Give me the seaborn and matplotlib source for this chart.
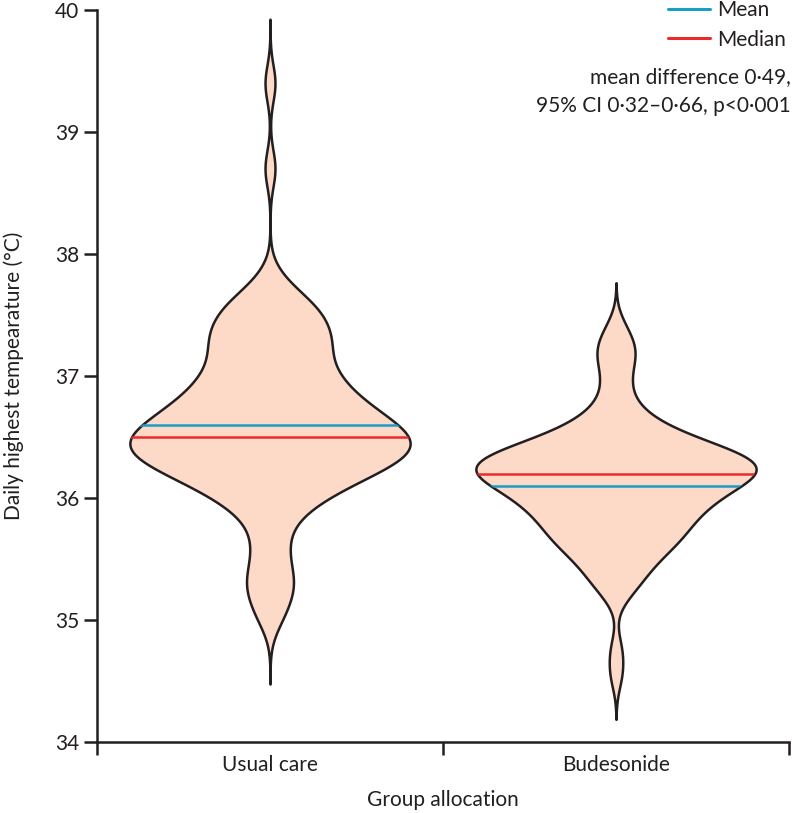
import numpy as np
import pandas as pd
import matplotlib
matplotlib.use("Agg")
import matplotlib.pyplot as plt
from matplotlib.lines import Line2D
import seaborn as sns

# ---------------- data ----------------
groups = ["Usual care", "Budesonide"]

# daily highest temperature (°C) and number of patients at each value
usual_temps = [35.0, 35.1, 35.2, 35.3, 35.4, 35.5, 35.6, 35.7, 35.8, 35.9,
               36.0, 36.1, 36.2, 36.3, 36.4, 36.5, 36.6, 36.7, 36.8, 36.9,
               37.0, 37.1, 37.2, 37.3, 37.4, 37.5, 37.6, 37.7, 37.8, 38.7, 39.4]
usual_counts = [1, 1, 1, 2, 1, 1, 1, 1, 1, 2,
                3, 4, 6, 7, 9, 8, 7, 6, 5, 4,
                4, 3, 3, 4, 3, 3, 3, 1, 1, 1, 1]

bud_temps = [34.55, 34.75, 35.2, 35.3, 35.4, 35.5, 35.6, 35.7, 35.8, 35.9,
             36.0, 36.1, 36.2, 36.3, 36.4, 36.5, 36.6, 36.7, 36.8, 36.9,
             37.0, 37.1, 37.2, 37.3, 37.4]
bud_counts = [1, 1, 1, 2, 2, 3, 4, 5, 5, 6,
              7, 8, 11, 11, 8, 5, 3, 2, 1, 1,
              1, 1, 2, 1, 1]

means = [36.6, 36.1]
medians = [36.5, 36.2]

legend_labels = ["Mean", "Median"]
annotation = ["mean difference 0·49,", "95% CI 0·32–0·66, p<0·001"]
y_ticks = [34, 35, 36, 37, 38, 39, 40]

# ---------------- styling ----------------
FILL = "#fdd9c8"
EDGE = "#231f20"
BLUE = "#1b9bc6"
RED = "#ea2a2d"
FS = 15

sns.set_style("ticks")
plt.rcParams["font.family"] = ["Lato", "DejaVu Sans"]
plt.rcParams["text.color"] = EDGE
plt.rcParams["axes.labelcolor"] = EDGE
plt.rcParams["xtick.color"] = EDGE
plt.rcParams["ytick.color"] = EDGE

df = pd.DataFrame({
    "group": np.repeat(["Usual care"] * len(usual_temps) + ["Budesonide"] * len(bud_temps),
                       usual_counts + bud_counts),
    "temp": np.repeat(usual_temps + bud_temps, usual_counts + bud_counts),
})

fig = plt.figure(figsize=(7.92, 8.13), dpi=100)
ax = fig.add_axes([97 / 792, 71 / 813, 692 / 792, 732 / 813])

bandwidth = {"Usual care": 0.15, "Budesonide": 0.13}
cuts = {"Usual care": 3.5, "Budesonide": 2.8}

violins = {}
for g in groups:
    sub = df[df["group"] == g]
    factor = bandwidth[g] / sub["temp"].std(ddof=1)
    n_before = len(ax.collections)
    sns.violinplot(data=sub, x="group", y="temp", order=groups, inner=None,
                   bw_method=factor, cut=cuts[g], gridsize=400, width=0.81,
                   density_norm="width", color=FILL, linecolor=EDGE,
                   linewidth=1.8, saturation=1, ax=ax)
    violins[g] = ax.collections[n_before]

for i, g in enumerate(groups):
    poly = violins[g]
    path = poly.get_paths()[0]
    for val, col in [(means[i], BLUE), (medians[i], RED)]:
        ln, = ax.plot([i - 0.5, i + 0.5], [val, val], color=col, lw=1.8,
                      solid_capstyle="butt", zorder=3)
        ln.set_clip_path(path, poly.get_transform())

ax.set_xlim(-0.5, 1.5)
ax.set_ylim(34, 40)
ax.set_yticks(y_ticks)
ax.set_yticklabels([str(t) for t in y_ticks], fontsize=FS)
ax.set_xticks([-0.5, 0.5, 1.5])
ax.set_xticklabels(["", "", ""])
ax.set_xticks([0, 1], minor=True)
ax.set_xticklabels(groups, minor=True, fontsize=FS)
ax.tick_params(axis="both", which="major", length=9.5, width=1.8, pad=3.5)
ax.tick_params(axis="x", which="minor", length=0, pad=9)

for side in ["top", "right"]:
    ax.spines[side].set_visible(False)
for side in ["left", "bottom"]:
    ax.spines[side].set_linewidth(1.8)
    ax.spines[side].set_color(EDGE)

ax.set_xlabel("Group allocation", fontsize=FS)
ax.xaxis.set_label_coords(0.5, -0.066)
ax.set_ylabel("Daily highest tempearature (°C)", fontsize=FS)
ax.yaxis.set_label_coords(-0.105, 0.5)

handles = [Line2D([], [], color=BLUE, lw=2.2), Line2D([], [], color=RED, lw=2.2)]
ax.legend(handles, legend_labels, loc="upper right",
          bbox_to_anchor=(786 / 792, 0.9995), bbox_transform=fig.transFigure,
          frameon=False, handlelength=2.0, handletextpad=0.35,
          labelspacing=0.45, borderpad=0, borderaxespad=0, fontsize=FS)

fig.text(791 / 792, 1 - 77 / 813, annotation[0], ha="right", va="center", fontsize=FS)
fig.text(791 / 792, 1 - 106 / 813, annotation[1], ha="right", va="center", fontsize=FS)

fig.savefig("out.png", dpi=100)
